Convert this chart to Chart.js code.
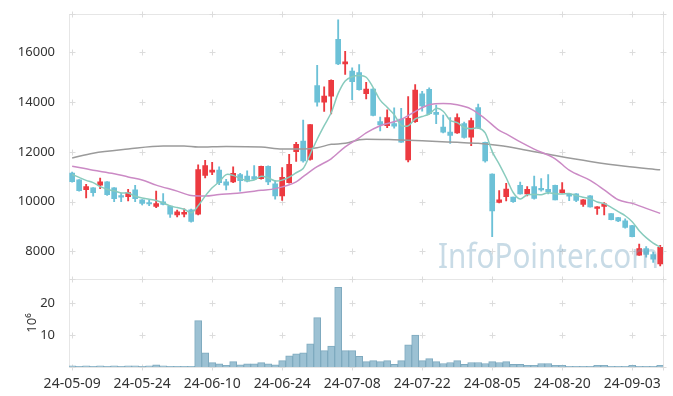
<!DOCTYPE html>
<html>
<head>
<meta charset="UTF-8">
<title>Candle chart</title>
<script src="https://cdn.jsdelivr.net/npm/chart.js"></script>
<style>
  html, body { margin: 0; padding: 0; background: #fff; }
  #wrap { width: 673px; height: 396px; }
</style>
</head>
<body>
<div id="wrap"><canvas id="stockChart"></canvas></div>
<script>
// trading days (yy-mm-dd)
const dates = [
  '24-05-09','24-05-10','24-05-13','24-05-14','24-05-16','24-05-17','24-05-20','24-05-21','24-05-22','24-05-23',
  '24-05-24','24-05-27','24-05-28','24-05-29','24-05-30','24-05-31','24-06-03','24-06-04','24-06-05','24-06-07',
  '24-06-10','24-06-11','24-06-12','24-06-13','24-06-14','24-06-17','24-06-18','24-06-19','24-06-20','24-06-21',
  '24-06-24','24-06-25','24-06-26','24-06-27','24-06-28','24-07-01','24-07-02','24-07-03','24-07-04','24-07-05',
  '24-07-08','24-07-09','24-07-10','24-07-11','24-07-12','24-07-15','24-07-16','24-07-17','24-07-18','24-07-19',
  '24-07-22','24-07-23','24-07-24','24-07-25','24-07-26','24-07-29','24-07-30','24-07-31','24-08-01','24-08-02',
  '24-08-05','24-08-06','24-08-07','24-08-08','24-08-09','24-08-12','24-08-13','24-08-14','24-08-16','24-08-19',
  '24-08-20','24-08-21','24-08-22','24-08-23','24-08-26','24-08-27','24-08-28','24-08-29','24-08-30','24-09-02',
  '24-09-03','24-09-04','24-09-05','24-09-06','24-09-09'
];
const openP = [
  11140,10870,10480,10550,10655,10790,10550,10230,10200,10470,
  10070,9925,9800,9990,9820,9460,9490,9670,9490,11050,
  11185,11265,10790,10790,11080,11025,11000,10920,11420,10710,
  10230,10760,12010,12430,11690,14660,14000,14240,16520,15535,
  15245,15190,14340,14527,13214,13055,13135,13320,11674,13214,
  14328,14515,13584,13000,12790,12765,13135,12590,13784,12378,
  11104,9963,10200,10177,10655,10310,10600,10496,10496,10655,
  10360,10300,10310,9883,10230,9725,9803,9512,9353,9220,
  9035,7840,8108,7870,7495
];
const highP = [
  11180,10880,10695,10560,10945,10800,10560,10340,10495,10655,
  10080,10060,10420,10320,9830,9655,9710,9700,11475,11660,
  11580,11395,10890,11395,11130,11240,11450,11430,11440,10840,
  11370,11900,12380,13280,13100,15480,14610,14900,17313,16040,
  15375,15510,14795,14540,13400,13692,13770,13745,14220,14700,
  14437,14570,13880,13480,13373,13530,13200,13360,13918,12390,
  11110,10440,10735,10180,10786,10600,11025,10920,11080,10660,
  10760,10320,10320,10080,10240,9800,9963,9520,9360,9300,
  9040,8290,8190,7970,8240
];
const lowP = [
  10780,10420,10150,10217,10520,10250,9990,9990,10020,9990,
  9860,9830,9750,9860,9360,9380,9380,9170,9460,10945,
  11080,10680,10467,10760,10420,10786,10880,10900,10680,10100,
  10040,10735,11610,11580,11660,13840,13625,13520,15510,15110,
  14100,14475,14130,13440,12844,12975,12947,12380,11595,13185,
  13640,13500,13135,12765,12340,12740,12550,12247,12935,11580,
  8585,9940,10020,9960,10300,10230,10100,10420,10310,10060,
  10335,10030,9990,9803,9770,9485,9460,9260,9195,8930,
  8580,7830,7760,7550,7415
];
const closeP = [
  10800,10440,10600,10360,10790,10280,10120,10180,10360,10120,
  9920,9900,9920,9880,9490,9590,9565,9200,11290,11450,
  11265,10760,10655,11130,10840,10815,10895,11420,10790,10230,
  10970,11500,12300,11635,13095,14000,14240,14875,15535,15615,
  14820,14500,14527,13465,13082,13373,13027,12390,13347,14487,
  13850,13533,13505,12790,12657,13373,12577,13254,12963,11635,
  9620,10070,10500,9990,10310,10496,10122,10467,10390,10070,
  10467,10220,10043,10070,9780,9780,9910,9274,9220,8955,
  8585,8108,7870,7680,8160
];
// volume, millions of shares
const volume = [
  0.4,0.2,0.4,0.2,0.4,0.2,0.4,0.2,0.4,0.4,
  0.2,0.4,0.7,0.4,0.2,0.2,0.2,0.2,14.5,4.4,
  1.35,1.0,0.5,1.7,0.7,1.0,1.0,1.35,1.0,0.7,
  2.0,3.5,4.1,4.4,7.2,15.4,5.1,6.5,24.9,5.1,
  5.1,3.3,1.7,2.0,1.7,2.0,0.8,2.0,6.9,10.0,
  2.0,2.6,1.7,1.1,1.4,2.0,0.8,1.4,1.4,1.1,
  1.7,1.4,1.7,0.8,0.8,0.5,0.5,1.1,1.1,0.5,
  0.5,0.2,0.2,0.2,0.2,0.5,0.5,0.2,0.2,0.2,
  0.5,0.2,0.2,0.2,0.5
];
// moving averages
const ma5 = [
  11090,10970,10850,10760,10598,10494,10430,10346,10346,10212,
  10140,10096,10044,9948,9822,9756,9689,9545,9827,10219,
  10554,10793,11084,11052,10930,10840,10867,11020,10952,10830,
  10861,10982,11158,11327,11900,12506,13054,13569,14349,14853,
  15017,15069,14999,14585,14079,13789,13495,13067,13044,13325,
  13420,13521,13744,13633,13267,13172,12980,12930,12965,12760,
  12010,11508,10958,10363,10098,10273,10284,10277,10357,10309,
  10303,10323,10238,10174,10116,9979,9917,9763,9593,9428,
  9189,8828,8548,8328,8169
];
// [day index, value]
const ma20 = [
  [0,11420],[3,11260],[6,11120],[8,10990],[10,10870],[12,10660],[15,10420],[17,10240],[19,10220],
  [21,10280],[23,10320],[27,10450],[29,10520],[32,10790],[33,11000],[35,11400],[37,11720],[39,12200],
  [41,12560],[42,12760],[44,13050],[47,13300],[49,13620],[51,13890],[53,13940],[55,13890],[57,13720],
  [59,13330],[61,12860],[62,12720],[64,12400],[66,12110],[69,11720],[71,11260],[74,10850],[76,10470],
  [78,10070],[80,9925],[82,9725],[84,9525]
];
const ma120 = [
  [0,11750],[3,11945],[8,12110],[13,12230],[16,12230],[18,12190],[22,12215],[27,12190],[30,12115],
  [33,12110],[35,12160],[37,12300],[39,12340],[41,12490],[42,12510],[46,12485],[50,12445],[55,12380],
  [58,12340],[61,12250],[64,12115],[69,11850],[74,11610],[79,11415],[84,11275]
];
const priceTicks = [8000, 10000, 12000, 14000, 16000];
const volumeTicks = [10, 20];
const labelEvery = 10;

const upColor = '#ec3a40';
const downColor = '#6cc1d7';

const idx = dates.map((d, i) => i);
const bodyData = idx.map(i => ({x: i, y: [Math.min(openP[i], closeP[i]), Math.max(openP[i], closeP[i])]}));
const wickData = idx.map(i => ({x: i, y: [lowP[i], highP[i]]}));
const candleColors = idx.map(i => closeP[i] >= openP[i] ? upColor : downColor);

// light "+" marks where grid lines would cross, frame, and the watermark
const decorPlugin = {
  id: 'decor',
  beforeDatasetsDraw(chart) {
    const {ctx, chartArea: a, scales} = chart;
    const xs = scales.x.ticks.map(t => scales.x.getPixelForValue(t.value)).concat([a.right]);
    const ys = [a.top, scales.y.bottom, a.bottom]
      .concat(scales.y.ticks.map(t => scales.y.getPixelForValue(t.value)))
      .concat(scales.y2.ticks.map(t => scales.y2.getPixelForValue(t.value)));
    ctx.save();
    ctx.strokeStyle = '#e6e6e6';
    ctx.lineWidth = 1;
    ctx.strokeRect(Math.round(a.left) + 0.5, Math.round(a.top) + 0.5, Math.round(a.width), Math.round(a.height));
    ctx.beginPath();
    ctx.moveTo(a.left, Math.round(scales.y.bottom) + 0.5);
    ctx.lineTo(a.right, Math.round(scales.y.bottom) + 0.5);
    ctx.stroke();
    ctx.strokeStyle = '#dcdcdc';
    ctx.beginPath();
    xs.forEach(x => {
      ys.forEach(y => {
        const px = Math.round(x) + 0.5, py = Math.round(y) + 0.5;
        ctx.moveTo(px - 3, py); ctx.lineTo(px + 3, py);
        ctx.moveTo(px, py - 3); ctx.lineTo(px, py + 3);
      });
    });
    ctx.stroke();
    ctx.restore();
  },
  afterDatasetsDraw(chart) {
    const {ctx, chartArea: a, scales} = chart;
    ctx.save();
    ctx.font = '35px "Noto Sans"';
    ctx.fillStyle = 'rgba(110,160,190,0.38)';
    ctx.textBaseline = 'alphabetic';
    const txt = 'InfoPointer.com';
    const w = ctx.measureText(txt).width;
    const target = 221;
    ctx.translate(a.right - 4 - target, scales.y.bottom - 11);
    ctx.scale(target / w, 1);
    ctx.fillText(txt, 0, 0);
    ctx.restore();
  }
};

const tickFont = {family: '"Noto Sans", sans-serif', size: 13};

new Chart(document.getElementById('stockChart'), {
  data: {
    datasets: [
      {
        type: 'line', label: 'MA5', yAxisID: 'y', order: 1,
        data: idx.map(i => ({x: i, y: ma5[i]})),
        borderColor: '#88cbbd', borderWidth: 1.5, pointRadius: 0, tension: 0.3
      },
      {
        type: 'line', label: 'MA20', yAxisID: 'y', order: 1,
        data: ma20.map(p => ({x: p[0], y: p[1]})),
        borderColor: '#cb8ac5', borderWidth: 1.5, pointRadius: 0, cubicInterpolationMode: 'monotone'
      },
      {
        type: 'line', label: 'MA120', yAxisID: 'y', order: 1,
        data: ma120.map(p => ({x: p[0], y: p[1]})),
        borderColor: '#9b9b9b', borderWidth: 1.5, pointRadius: 0, cubicInterpolationMode: 'monotone'
      },
      {
        type: 'bar', label: 'wick', yAxisID: 'y', order: 3, grouped: false,
        data: wickData, backgroundColor: candleColors, barThickness: 1.2
      },
      {
        type: 'bar', label: 'body', yAxisID: 'y', order: 2, grouped: false,
        data: bodyData, backgroundColor: candleColors, barThickness: 5, minBarLength: 1.5
      },
      {
        type: 'bar', label: 'volume', yAxisID: 'y2', order: 4, grouped: false,
        data: idx.map(i => ({x: i, y: volume[i]})),
        backgroundColor: '#9cc1d3', borderColor: '#7faabf', borderWidth: 1,
        barPercentage: 1, categoryPercentage: 1
      }
    ]
  },
  options: {
    responsive: true,
    maintainAspectRatio: false,
    animation: false,
    layout: {padding: {top: 10, right: 10, left: 0, bottom: 0}},
    plugins: {legend: {display: false}, tooltip: {enabled: false}},
    scales: {
      x: {
        type: 'linear', min: -0.45, max: 84.4, offset: false,
        grid: {display: false, offset: false}, border: {display: false},
        afterBuildTicks: s => { s.ticks = idx.filter(i => i % labelEvery === 0).map(v => ({value: v})); },
        afterFit: s => { s.height = 29; },
        ticks: {
          font: {family: '"Noto Sans", sans-serif', size: 14}, color: '#333',
          maxRotation: 0, autoSkip: false, padding: 1,
          callback: v => dates[v]
        }
      },
      y: {
        type: 'linear', position: 'left', stack: 'panels', stackWeight: 268, weight: 2,
        min: 6886, max: 17552,
        grid: {display: false}, border: {display: false},
        afterBuildTicks: s => { s.ticks = priceTicks.map(v => ({value: v})); },
        afterFit: s => { s.width = 69; },
        ticks: {font: tickFont, color: '#333', padding: 6, callback: v => String(v)}
      },
      y2: {
        type: 'linear', position: 'left', stack: 'panels', stackWeight: 89, weight: 1,
        min: 0, max: 27.5,
        grid: {display: false}, border: {display: false},
        afterBuildTicks: s => { s.ticks = volumeTicks.map(v => ({value: v})); },
        afterFit: s => { s.width = 69; },
        title: {display: true, text: '10⁶', font: tickFont, color: '#333', padding: {top: 24, bottom: 0}},
        ticks: {font: tickFont, color: '#333', padding: 6, callback: v => String(v)}
      }
    }
  },
  plugins: [decorPlugin]
});
</script>
</body>
</html>
